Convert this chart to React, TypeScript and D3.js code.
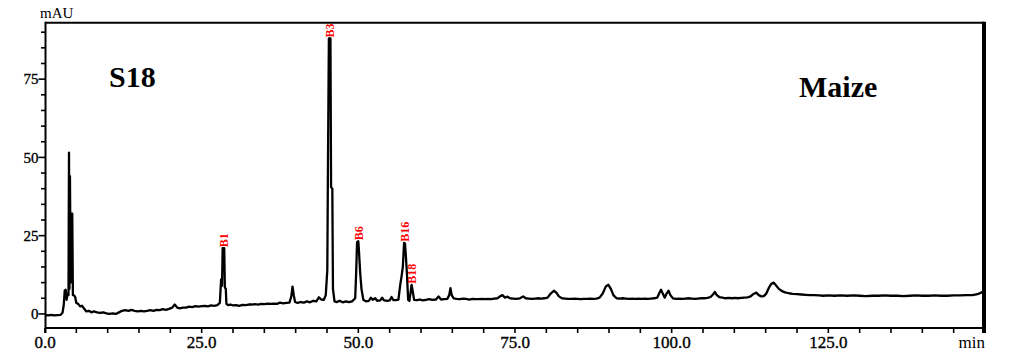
import React from 'react';
import * as d3 from 'd3';

// Chromatogram trace: [retention time (min), absorbance (mAU)]
const chromatogram: [number, number][] = [
  [0, -0.3], [0.5, -0.5], [1, -0.3], [1.5, -0.5], [2, -0.4], [2.5, -0.3], [2.8, 0.4],
  [3.0, 3], [3.15, 7.5], [3.3, 7.7], [3.45, 4.5], [3.6, 6.5], [3.75, 6], [3.83, 51.5],
  [3.9, 8], [3.98, 44], [4.1, 10], [4.2, 32], [4.35, 32], [4.45, 6], [4.6, 6], [4.8, 5.5],
  [5.0, 3.5], [5.3, 3.2], [5.6, 2.4], [5.9, 2.6], [6.2, 1.8], [6.6, 0.8], [7.0, 1.0],
  [7.4, 0.5], [7.8, 0.8], [8.3, 0.5], [8.8, 0.3], [9.3, 0.5], [9.8, 0.2], [10.3, 0],
  [10.8, 0.2], [11.3, 0], [11.8, 0.5], [12.3, 1.0], [12.8, 1.2], [13.3, 1.0], [13.8, 1.3],
  [14.3, 1.0], [14.8, 0.8], [15.3, 1.0], [15.8, 0.8], [16.3, 1.0], [16.8, 1.2], [17.3, 1.0],
  [17.8, 1.3], [18.3, 1.2], [18.8, 1.5], [19.3, 1.3], [19.8, 1.6], [20.3, 2.0], [20.7, 3.0],
  [21.1, 2.0], [21.5, 1.8], [22, 2.0], [22.5, 2.0], [23, 2.3], [23.5, 2.2], [24, 2.5],
  [24.5, 2.3], [25, 2.5], [25.5, 2.6], [26, 2.4], [26.5, 2.7], [27, 2.6], [27.5, 2.8],
  [27.9, 3.5], [28.1, 11], [28.25, 9], [28.35, 21], [28.6, 21], [28.7, 8.5], [28.85, 8],
  [28.95, 3.2], [29.2, 2.8], [29.6, 3], [30, 2.7], [30.5, 2.8], [31, 2.6], [31.5, 2.9],
  [32, 2.8], [32.5, 3.0], [33, 3.0], [33.5, 3.1], [34, 3.0], [34.5, 3.2], [35, 3.1],
  [35.5, 3.3], [36, 3.2], [36.5, 3.3], [37, 3.2], [37.5, 3.6], [38, 3.4], [38.5, 3.5],
  [39.0, 3.6], [39.3, 5.5], [39.5, 8.7], [39.7, 6], [39.9, 3.8], [40.3, 3.5], [40.8, 3.8],
  [41.3, 3.6], [41.8, 4.0], [42.3, 3.7], [42.8, 4.2], [43.3, 4.0], [43.7, 5.3], [44.1, 4.6],
  [44.5, 4.5], [44.8, 6.0], [45.05, 14], [45.15, 47], [45.3, 88], [45.55, 88], [45.65, 40.5],
  [45.85, 40], [45.95, 8], [46.2, 4], [46.6, 3.8], [47, 4.2], [47.5, 3.7], [48, 4],
  [48.5, 3.8], [49, 4], [49.5, 5], [49.65, 13], [49.8, 23], [50.0, 23.2], [50.1, 20],
  [50.3, 13], [50.5, 8], [50.8, 4.5], [51.2, 4], [51.7, 4.2], [52.0, 5.2], [52.3, 4.5],
  [52.7, 5], [53.0, 4.2], [53.5, 4.3], [53.8, 5.2], [54.1, 4.3], [54.6, 4.2], [55.0, 4.3],
  [55.3, 5.4], [55.6, 4.4], [56.0, 4.4], [56.4, 4.6], [56.7, 9.5], [56.9, 12], [57.1, 15],
  [57.3, 22.7], [57.45, 22.5], [57.6, 18], [57.75, 13], [57.95, 4.5], [58.15, 4.2],
  [58.35, 7], [58.5, 9.3], [58.7, 7], [58.9, 4.5], [59.3, 4.4], [59.8, 4.6], [60.3, 4.3],
  [60.8, 4.5], [61.3, 4.7], [61.8, 4.5], [62.4, 4.6], [62.8, 5.6], [63.2, 4.6], [63.7, 4.7],
  [64.2, 4.8], [64.5, 6], [64.7, 8.2], [64.9, 6], [65.2, 5], [65.7, 4.8], [66.2, 4.7],
  [66.7, 4.9], [67.2, 4.8], [67.7, 4.6], [68.2, 4.8], [68.7, 4.7], [69.2, 4.7], [69.7, 4.8],
  [70.2, 4.7], [70.7, 4.8], [71.2, 4.7], [71.7, 4.9], [72.2, 5.0], [72.6, 5.6], [73.0, 6.0],
  [73.4, 5.2], [73.8, 5.5], [74.2, 5.0], [74.7, 4.9], [75.2, 4.8], [75.8, 5.0], [76.3, 5.6],
  [76.7, 5.0], [77.2, 4.9], [77.7, 4.8], [78.2, 4.9], [78.7, 5.0], [79.2, 4.9], [79.7, 5.0],
  [80.2, 5.2], [80.7, 6.5], [81.2, 7.4], [81.6, 6.8], [82.0, 5.6], [82.5, 5.0], [83, 4.9],
  [83.5, 4.8], [84, 4.8], [84.5, 4.9], [85, 4.8], [85.5, 4.7], [86, 4.8], [86.5, 4.8],
  [87, 4.9], [87.5, 4.8], [88, 4.9], [88.5, 5.2], [89.0, 6.5], [89.5, 8.8], [89.9, 9.3],
  [90.3, 8.0], [90.7, 6.0], [91.2, 5.0], [91.7, 4.9], [92.2, 5.0], [92.7, 4.9], [93.2, 4.8],
  [93.7, 4.9], [94.2, 4.8], [94.7, 4.9], [95.2, 4.8], [95.7, 4.9], [96.2, 4.8], [96.7, 4.9],
  [97.2, 5.0], [97.7, 5.2], [98.0, 6.5], [98.3, 7.7], [98.6, 6.4], [98.9, 5.2], [99.2, 6.5],
  [99.5, 7.4], [99.8, 6.0], [100.2, 5.0], [100.7, 4.8], [101.2, 4.9], [101.7, 4.8],
  [102.2, 4.9], [102.7, 5.0], [103.2, 4.9], [103.7, 4.8], [104.2, 4.9], [104.7, 5.0],
  [105.2, 5.0], [105.7, 5.1], [106.2, 5.4], [106.6, 6.2], [106.9, 7.0], [107.2, 6.0],
  [107.6, 5.4], [108.1, 5.2], [108.6, 5.0], [109.1, 5.1], [109.6, 5.0], [110.1, 5.1],
  [110.6, 5.0], [111.1, 5.1], [111.6, 5.2], [112.1, 5.3], [112.6, 5.6], [113.0, 6.3],
  [113.5, 6.8], [113.9, 6.0], [114.3, 5.6], [114.7, 5.7], [115.1, 6.5], [115.5, 8.3],
  [115.9, 9.6], [116.3, 10.0], [116.7, 9.0], [117.1, 8.0], [117.6, 7.3], [118.1, 6.9],
  [118.7, 6.6], [119.3, 6.4], [120, 6.3], [120.7, 6.2], [121.4, 6.1], [122.1, 6.0],
  [122.8, 6.0], [123.5, 5.9], [124.2, 5.8], [125, 5.9], [126, 5.8], [127, 5.9], [128, 5.8],
  [129, 5.9], [130, 5.8], [131, 5.7], [132, 5.8], [133, 5.8], [134, 5.9], [135, 5.8],
  [136, 5.8], [137, 5.7], [138, 5.8], [139, 5.9], [140, 5.8], [141, 5.8], [142, 5.9],
  [143, 5.8], [144, 5.8], [145, 5.9], [146, 5.9], [147, 6.0], [148, 6.0], [148.8, 6.3],
  [149.4, 6.8], [149.8, 7.2], [150, 7.5],
];

const peakNames = ['B1', 'B3', 'B6', 'B16', 'B18'];
const peakTimes = [28.5, 45.45, 50.0, 57.4, 58.6];

const xTickValues = [0, 25, 50, 75, 100, 125];
const xTickLabels = ['0.0', '25.0', '50.0', '75.0', '100.0', '125.0'];
const yTickValues = [0, 25, 50, 75];
const yTickLabels = ['0', '25', '50', '75'];

const yUnit = 'mAU';
const xUnit = 'min';
const sampleLabel = 'S18';
const cropLabel = 'Maize';

const FONT = '"Liberation Serif", "Times New Roman", serif';

export default function App() {
  const W = 1010;
  const H = 361;
  const left = 45;
  const right = 985;
  const top = 22.8;
  const bottom = 328;

  const x = d3.scaleLinear().domain([0, 150]).range([left, right]);
  const y = d3.scaleLinear().domain([-4.5, 93]).range([bottom, top]);

  const line = d3
    .line<[number, number]>()
    .x((d) => x(d[0]))
    .y((d) => y(d[1]));

  const minorX = d3.range(0, 150, 5);
  const minorY = d3.range(0, 95, 5);

  const peakApex = peakTimes.map((t) => {
    const near = chromatogram.filter((d) => Math.abs(d[0] - t) <= 0.4);
    return d3.max(near, (d) => d[1]) ?? 0;
  });

  const tickTextStyle = { stroke: '#000', strokeWidth: 0.35 };

  return (
    <svg
      width={W}
      height={H}
      viewBox={`0 0 ${W} ${H}`}
      style={{ position: 'absolute', left: 0, top: 0, background: '#fff' }}
    >
      <rect x={0} y={0} width={W} height={H} fill="#fff" />

      {/* trace */}
      <path
        d={line(chromatogram) ?? ''}
        fill="none"
        stroke="#000"
        strokeWidth={2.3}
        strokeLinejoin="round"
      />

      {/* frame */}
      <line x1={left} x2={right - 1} y1={top} y2={top} stroke="#000" strokeWidth={2} />
      <line x1={left} x2={right - 1} y1={bottom} y2={bottom} stroke="#000" strokeWidth={2} />
      <line x1={left + 0.5} x2={left + 0.5} y1={top - 1} y2={bottom + 5} stroke="#000" strokeWidth={2} />
      <line x1={right - 1} x2={right - 1} y1={top - 1} y2={bottom + 5} stroke="#000" strokeWidth={4} />

      {/* x ticks */}
      {minorX.map((t) => (
        <line key={`xt${t}`} x1={x(t)} x2={x(t)} y1={bottom} y2={bottom + 5} stroke="#000" strokeWidth={1.6} />
      ))}
      {xTickValues.map((t, i) => (
        <text
          key={`xl${t}`}
          x={x(t)}
          y={348}
          textAnchor="middle"
          fontFamily={FONT}
          fontSize={17}
          fill="#000"
          style={tickTextStyle}
        >
          {xTickLabels[i]}
        </text>
      ))}
      <text x={985} y={348} textAnchor="end" fontFamily={FONT} fontSize={17} fill="#000">
        {xUnit}
      </text>

      {/* y ticks */}
      {minorY.map((v) => {
        const major = yTickValues.includes(v);
        return (
          <line
            key={`yt${v}`}
            x1={left - (major ? 6.5 : 4)}
            x2={left}
            y1={y(v)}
            y2={y(v)}
            stroke="#000"
            strokeWidth={1.6}
          />
        );
      })}
      {yTickValues.map((v, i) => (
        <text
          key={`yl${v}`}
          x={38.5}
          y={y(v)}
          dy="0.35em"
          textAnchor="end"
          fontFamily={FONT}
          fontSize={15}
          fill="#000"
          style={tickTextStyle}
        >
          {yTickLabels[i]}
        </text>
      ))}
      <text x={40} y={18} fontFamily={FONT} fontSize={15} fill="#000">
        {yUnit}
      </text>

      {/* annotations */}
      <text x={109} y={87} fontFamily={FONT} fontSize={30} fontWeight="bold" fill="#000">
        {sampleLabel}
      </text>
      <text x={799} y={96.5} fontFamily={FONT} fontSize={30} fontWeight="bold" fill="#000">
        {cropLabel}
      </text>

      {/* peak labels */}
      {peakNames.map((name, i) => {
        const px = x(peakTimes[i]);
        const py = y(peakApex[i]) - 1;
        return (
          <text
            key={name}
            transform={`translate(${px},${py}) rotate(-90)`}
            dy="0.35em"
            textAnchor="start"
            fontFamily={FONT}
            fontSize={12}
            fontWeight="bold"
            fill="#ff0000"
          >
            {name}
          </text>
        );
      })}
    </svg>
  );
}
